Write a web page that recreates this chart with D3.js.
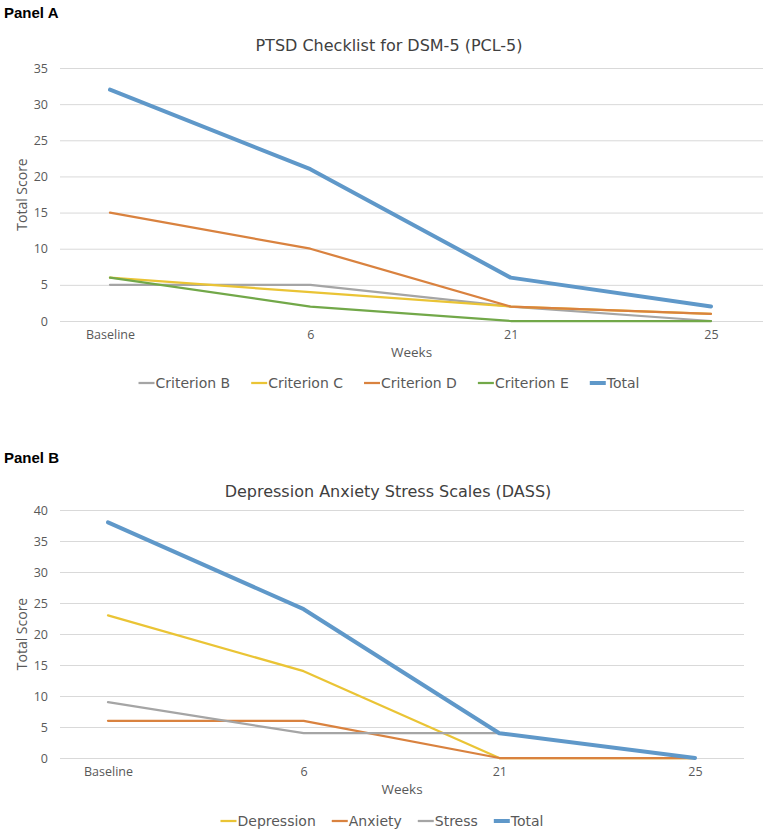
<!DOCTYPE html>
<html>
<head>
<meta charset="utf-8">
<script src="https://cdn.jsdelivr.net/npm/d3@7"></script>
<style>
  body { margin: 0; background: #fff; }
  svg { display: block; }
  text { font-family: "Open Sans", "DejaVu Sans", sans-serif; }
</style>
</head>
<body>
<svg id="chart"></svg>
<script>
const width = 767;
const height = 833;

const weeks = ["Baseline", "6", "21", "25"];

// Panel A - PCL-5
const pclNames = ["Criterion B", "Criterion C", "Criterion D", "Criterion E", "Total"];
const criterionB = [5, 5, 2, 0];
const criterionC = [6, 4, 2, 1];
const criterionD = [15, 10, 2, 1];
const criterionE = [6, 2, 0, 0];
const pclTotal = [32, 21, 6, 2];
const pclTicks = [0, 5, 10, 15, 20, 25, 30, 35];

// Panel B - DASS
const dassNames = ["Depression", "Anxiety", "Stress", "Total"];
const depression = [23, 14, 0, 0];
const anxiety = [6, 6, 0, 0];
const stress = [9, 4, 4, 0];
const dassTotal = [38, 24, 4, 0];
const dassTicks = [0, 5, 10, 15, 20, 25, 30, 35, 40];

const colors = {
  blue: "#5f98c9", orange: "#d9823f", gray: "#a5a5a5", yellow: "#eac435", green: "#72a849"
};

const svg = d3.select("#chart")
  .attr("width", width)
  .attr("height", height);

const drawPanel = (opt) => {
  const g = svg.append("g");

  g.append("text")
    .attr("x", 4)
    .attr("y", opt.labelY)
    .style("font-family", "'Liberation Sans', Arial, sans-serif")
    .style("font-weight", "bold")
    .style("font-size", "15px")
    .attr("fill", "#000")
    .text(opt.label);

  g.append("text")
    .attr("x", opt.titleX)
    .attr("y", opt.titleY)
    .attr("text-anchor", "middle")
    .style("font-family", "'DejaVu Sans', sans-serif")
    .style("font-size", "16px")
    .attr("fill", "#404040")
    .text(opt.title);

  const x = d3.scalePoint()
    .domain(weeks)
    .range(opt.xRange);

  const y = d3.scaleLinear()
    .domain([0, d3.max(opt.ticks)])
    .range(opt.yRange);

  // gridlines + y axis labels
  const yAxis = d3.axisLeft(y)
    .tickValues(opt.ticks)
    .tickSize(-(opt.gridRight - 60))
    .tickPadding(12);

  const ya = g.append("g")
    .attr("transform", "translate(60,0)")
    .call(yAxis);
  ya.select(".domain").remove();
  ya.selectAll(".tick line").attr("stroke", "#d9d9d9").attr("stroke-width", 1);
  ya.selectAll(".tick text")
    .attr("fill", "#595959")
    .style("font-size", "12.5px")
    .style("font-family", "'Open Sans', sans-serif");

  // x axis labels
  const xAxis = d3.axisBottom(x).tickSize(0).tickPadding(9);
  const xa = g.append("g")
    .attr("transform", `translate(0,${opt.yRange[0]})`)
    .call(xAxis);
  xa.select(".domain").remove();
  xa.selectAll(".tick text")
    .attr("fill", "#595959")
    .style("font-size", "12.5px")
    .style("font-family", "'Open Sans', sans-serif");

  g.append("text")
    .attr("x", (60 + opt.gridRight) / 2)
    .attr("y", opt.yRange[0] + 36)
    .attr("text-anchor", "middle")
    .attr("fill", "#595959")
    .style("font-size", "13.5px")
    .text("Weeks");

  g.append("text")
    .attr("transform", `translate(27,${(opt.yRange[0] + opt.yRange[1]) / 2}) rotate(-90)`)
    .attr("text-anchor", "middle")
    .attr("fill", "#595959")
    .style("font-size", "14px")
    .text("Total Score");

  const line = d3.line()
    .x((d, i) => x(weeks[i]))
    .y(d => y(d));

  opt.series.forEach(s => {
    g.append("path")
      .datum(s.values)
      .attr("d", line)
      .attr("fill", "none")
      .attr("stroke", s.color)
      .attr("stroke-width", s.width)
      .attr("stroke-linejoin", "round")
      .attr("stroke-linecap", "round");
  });

  // legend
  const legend = g.append("g");
  let lx = 0;
  opt.series.forEach(s => {
    const it = legend.append("g");
    it.append("line")
      .attr("x1", 0).attr("x2", 16)
      .attr("y1", 0).attr("y2", 0)
      .attr("stroke", s.color)
      .attr("stroke-width", s.width);
    const t = it.append("text")
      .attr("x", 17)
      .attr("y", 5)
      .attr("fill", "#595959")
      .style("font-family", "'DejaVu Sans', sans-serif")
      .style("font-size", "14px")
      .text(s.name);
    const w = 17 + t.node().getComputedTextLength();
    it.attr("transform", `translate(${lx},0)`);
    lx += w + opt.legendGap;
  });
  const total = lx - opt.legendGap;
  legend.attr("transform", `translate(${opt.legendX - total / 2},${opt.legendY})`);
};

drawPanel({
  label: "Panel A",
  labelY: 18,
  title: "PTSD Checklist for DSM-5 (PCL-5)",
  titleX: 389,
  titleY: 51,
  xRange: [110, 711],
  yRange: [321, 68],
  gridRight: 763,
  ticks: pclTicks,
  legendX: 389,
  legendY: 383,
  legendGap: 21,
  series: [
    { name: pclNames[0], values: criterionB, color: colors.gray, width: 2.25 },
    { name: pclNames[1], values: criterionC, color: colors.yellow, width: 2.25 },
    { name: pclNames[2], values: criterionD, color: colors.orange, width: 2.25 },
    { name: pclNames[3], values: criterionE, color: colors.green, width: 2.25 },
    { name: pclNames[4], values: pclTotal, color: colors.blue, width: 4 }
  ]
});

drawPanel({
  label: "Panel B",
  labelY: 463,
  title: "Depression Anxiety Stress Scales (DASS)",
  titleX: 388,
  titleY: 497,
  xRange: [108, 695],
  yRange: [758, 510],
  gridRight: 744,
  ticks: dassTicks,
  legendX: 382,
  legendY: 821,
  legendGap: 16,
  series: [
    { name: dassNames[0], values: depression, color: colors.yellow, width: 2.25 },
    { name: dassNames[1], values: anxiety, color: colors.orange, width: 2.25 },
    { name: dassNames[2], values: stress, color: colors.gray, width: 2.25 },
    { name: dassNames[3], values: dassTotal, color: colors.blue, width: 4 }
  ]
});
</script>
</body>
</html>
